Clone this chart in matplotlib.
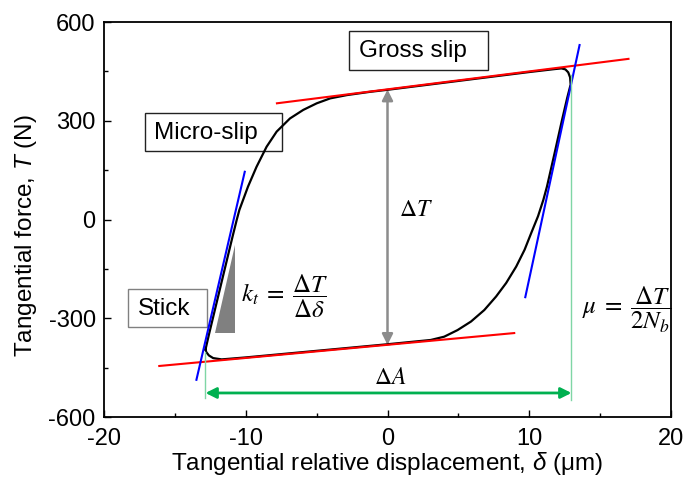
import matplotlib
matplotlib.use('Agg')
import matplotlib.pyplot as plt
from matplotlib.ticker import MultipleLocator
from matplotlib.patches import Rectangle, Polygon

plt.rcParams['font.family'] = ['Liberation Sans', 'DejaVu Sans']
plt.rcParams['mathtext.fontset'] = 'custom'
plt.rcParams['mathtext.it'] = 'Liberation Sans:italic'
plt.rcParams['mathtext.rm'] = 'Liberation Sans'
plt.rcParams['axes.unicode_minus'] = False

# ---- hysteresis loop (displacement um, force N) ----
loop_x = [-12.84, -12.60, -12.32, -12.04, -11.76, -11.48, -11.20, -10.92, -10.63,
          -10.45, -9.84, -9.24, -8.53, -7.82, -6.88, -5.94, -4.99, -4.04, -2.86,
          -1.21, 0.0, 5.0, 10.0, 11.8, 12.27, 12.55, 12.75, 12.88, 12.92,
          12.68, 12.30, 11.78, 11.25, 10.99, 10.62, 10.14, 9.67, 9.08, 8.37,
          7.66, 6.83, 5.89, 4.94, 4.00, 3.05, 0.0, -5.0, -10.0, -11.70,
          -12.30, -12.60, -12.78, -12.84]
loop_y = [-395, -350, -300, -250, -200, -150, -100, -50, 0,
          29, 100, 160, 221, 267, 307, 333, 353, 368, 378,
          388, 394, 421, 448, 457, 459, 456, 447, 432, 410,
          370, 300, 200, 100, 59, 10, -41, -92, -143, -193,
          -234, -275, -310, -336, -356, -366, -379, -399, -419, -425,
          -421, -413, -403, -395]

# fitted lines
gross_upper_x = [-7.8, 17.0]
gross_upper_y = [353, 488]
gross_lower_x = [-16.1, 8.94]
gross_lower_y = [-445, -345]
stick_left_x = [-13.48, -10.07]
stick_left_y = [-487, 145]
stick_right_x = [9.72, 13.55]
stick_right_y = [-236, 530]

# annotations
dT_x = 0.0
dT_top, dT_bottom = 395, -381
dA_left, dA_right, dA_y = -12.84, 12.98, -527
guide_left_y = [-542, -402]
guide_right_y = [-548, 440]
tri_x = [-12.2, -10.78, -10.78]
tri_y = [-345, -345, -77.5]

xticks = [-20, -10, 0, 10, 20]
yticks = [-600, -300, 0, 300, 600]

fig = plt.figure(figsize=(6.86, 4.79), dpi=100)
ax = fig.add_axes([104/686, 62/479, 567/686, 395/479])

ax.plot(loop_x, loop_y, color='black', lw=1.6, zorder=3, solid_joinstyle='round')
ax.plot(gross_upper_x, gross_upper_y, color='red', lw=1.5, zorder=4)
ax.plot(gross_lower_x, gross_lower_y, color='red', lw=1.5, zorder=4)
ax.plot(stick_left_x, stick_left_y, color='blue', lw=1.5, zorder=4)
ax.plot(stick_right_x, stick_right_y, color='blue', lw=1.5, zorder=4)

ax.plot([dA_left, dA_left], guide_left_y, color='#7fd6a5', lw=1.0, zorder=5)
ax.plot([dA_right, dA_right], guide_right_y, color='#7fd6a5', lw=1.0, zorder=5)

ax.annotate('', xy=(dT_x, dT_top), xytext=(dT_x, dT_bottom),
            arrowprops=dict(arrowstyle='<|-|>', color='#8c8c8c', lw=1.8,
                            mutation_scale=16, shrinkA=0, shrinkB=0), zorder=2)
ax.annotate('', xy=(dA_right, dA_y), xytext=(dA_left, dA_y),
            arrowprops=dict(arrowstyle='<|-|>', color='#00b050', lw=2.0,
                            mutation_scale=16, shrinkA=0, shrinkB=0), zorder=5)

ax.add_patch(Polygon(list(zip(tri_x, tri_y)), closed=True, fc='#808080', ec='none', zorder=2))

# label boxes (axes fraction)
def box(x0, y0, x1, y1, tx, ty, s, ec):
    ax.add_patch(Rectangle((x0, y0), x1 - x0, y1 - y0, transform=ax.transAxes,
                           fc='white', ec=ec, lw=1.0, zorder=2.5))
    ax.text(tx, ty, s, transform=ax.transAxes, ha='left', va='center',
            fontsize=17.5, zorder=7)

box(0.432, 0.878, 0.677, 0.977, 0.449, 0.926, 'Gross slip', '#222222')
box(0.0723, 0.673, 0.314, 0.770, 0.088, 0.720, 'Micro-slip', '#222222')
box(0.0423, 0.228, 0.1817, 0.324, 0.0595, 0.274, 'Stick', '#808080')

mfs = 17
ax.text(1.99, 29, r'$\Delta T$', fontsize=mfs, math_fontfamily='stix',
        ha='center', va='center', zorder=7)
ax.text(-10.33, -232, r'$k_t\;=\;\dfrac{\Delta T}{\Delta \delta}$', fontsize=18,
        math_fontfamily='stix', ha='left', va='center', zorder=7)
ax.text(13.75, -275, r'$\mu\;=\;\dfrac{\Delta T}{2N_b}$', fontsize=18,
        math_fontfamily='stix', ha='left', va='center', zorder=7)
ax.text(0.2, -481, r'$\Delta A$', fontsize=mfs, math_fontfamily='stix',
        ha='center', va='center', zorder=7)

ax.set_xlim(-20, 20)
ax.set_ylim(-600, 600)
ax.set_xticks(xticks)
ax.set_yticks(yticks)
ax.xaxis.set_minor_locator(MultipleLocator(5))
ax.yaxis.set_minor_locator(MultipleLocator(150))
ax.tick_params(which='both', direction='in', labelsize=17, width=1.0)
ax.tick_params(which='major', length=5)
ax.tick_params(which='minor', length=3)
ax.tick_params(axis='x', pad=8)
ax.tick_params(axis='y', pad=6)
for sp in ax.spines.values():
    sp.set_linewidth(1.3)

ax.set_xlabel(r'Tangential relative displacement, $\delta$ (μm)', fontsize=17.5, labelpad=0)
ax.set_ylabel(r'Tangential force, $T$ (N)', fontsize=17.5)
ax.yaxis.set_label_coords(-0.115, 0.46)

fig.savefig('out.png', dpi=100)
